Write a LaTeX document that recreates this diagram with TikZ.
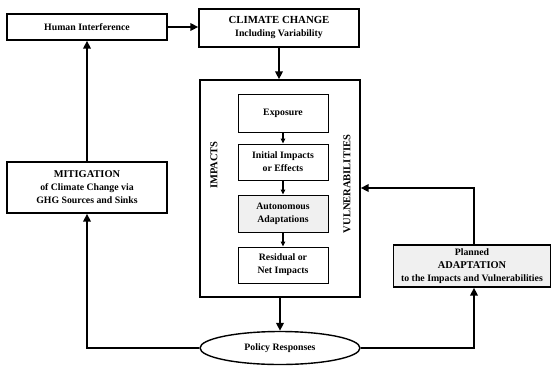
\documentclass[tikz,border=0pt]{standalone}
\usepackage{fontspec}
\setmainfont{Liberation Serif}
\usetikzlibrary{arrows.meta,shapes.geometric}
\begin{document}
\begin{tikzpicture}[x=1pt,y=-1pt,
  box/.style={draw, line width=1.4pt, inner sep=0pt, align=center,
    font=\bfseries\fontsize{9.8}{13}\selectfont},
  ibox/.style={draw, line width=1pt, inner sep=0pt, align=center,
    minimum width=90pt, font=\bfseries\fontsize{9.8}{13}\selectfont},
  speckle/.style={fill=gray!12},
  bigarrow/.style={-{Triangle[length=8pt,width=7.5pt]}, line width=2.2pt},
  smallarrow/.style={-{Triangle[length=5pt,width=4.5pt]}, line width=1.1pt},
  sidelabel/.style={rotate=90, font=\bfseries\fontsize{10.5}{12}\selectfont}]
\useasboundingbox (0,0) rectangle (552,365);

\node[box, minimum width=160pt, minimum height=26pt] (human) at (87,27) {Human Interference};
\node[box, minimum width=160pt, minimum height=38pt] (climate) at (279,28)
  {{\fontsize{10.8}{13}\selectfont CLIMATE CHANGE}\\Including Variability};
\node[box, minimum width=160pt, minimum height=217pt] (impbox) at (280,188.5) {};
\node[ibox, minimum height=38pt] (exposure) at (283,113) {Exposure};
\node[ibox, minimum height=36pt] (initial) at (283,162) {Initial Impacts\\or Effects};
\node[ibox, speckle, minimum height=37pt] (auto) at (283,213.5) {Autonomous\\Adaptations};
\node[ibox, minimum height=36pt] (residual) at (283,265) {Residual or\\Net Impacts};
\node[sidelabel] (implabel) at (214,165) {IMPACTS};
\node[sidelabel] (vullabel) at (347,184) {VULNERABILITIES};

\node[box, minimum width=160pt, minimum height=51pt] (mitig) at (87,187.5)
  {{\fontsize{10.4}{13}\selectfont MITIGATION}\\of Climate Change via\\GHG Sources and Sinks};
\node[box, speckle, minimum width=157pt, minimum height=42pt] (planned) at (472,266)
  {Planned\\{\fontsize{10.4}{13}\selectfont ADAPTATION}\\to the Impacts and Vulnerabilities};
\node[box, ellipse, minimum width=160pt, minimum height=33pt] (policy) at (280,348) {Policy Responses};

\coordinate (mcorner) at (87,348);
\coordinate (pcorner) at (474,348);
\coordinate (vcorner) at (474,188);

\draw[bigarrow] (human.east) -- (human.east -| climate.west);
\draw[bigarrow] (climate.south) -- (climate.south |- impbox.north);
\draw[bigarrow] (mitig.north) -- (human.south);
\draw[bigarrow] (policy.west) -- (mcorner) -- (mitig.south);
\draw[bigarrow] (impbox.south) -- (policy.north);
\draw[bigarrow] (policy.east) -- (pcorner) -- (pcorner |- planned.south);
\draw[bigarrow] (pcorner |- planned.north) -- (vcorner) -- (vcorner -| impbox.east);

\draw[smallarrow] (exposure.south) -- (initial.north);
\draw[smallarrow] (initial.south) -- (auto.north);
\draw[smallarrow] (auto.south) -- (residual.north);
\end{tikzpicture}
\end{document}
